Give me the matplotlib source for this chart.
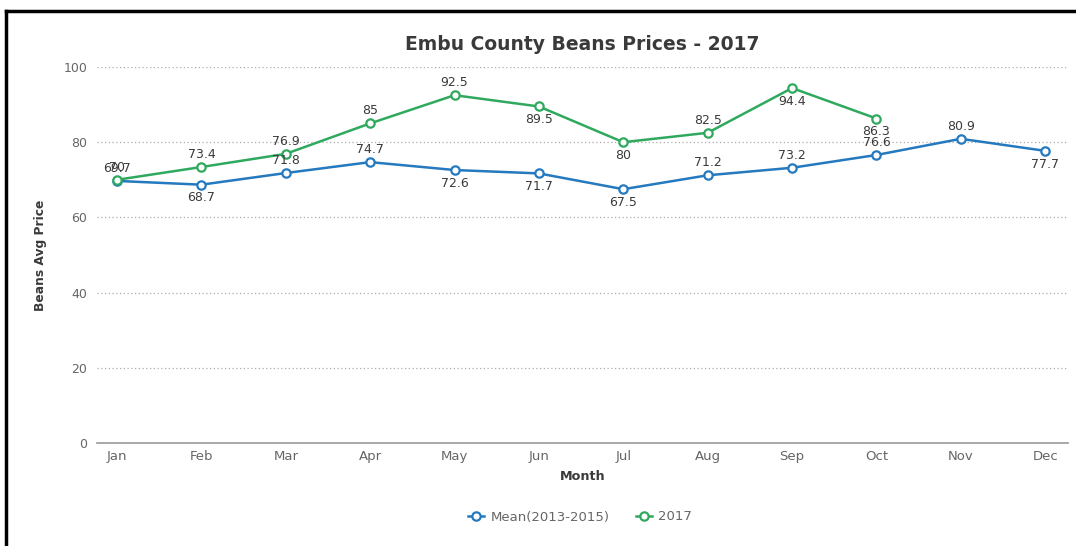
import matplotlib
matplotlib.use("Agg")
import matplotlib.pyplot as plt
from matplotlib.lines import Line2D

months = ["Jan", "Feb", "Mar", "Apr", "May", "Jun", "Jul", "Aug", "Sep", "Oct", "Nov", "Dec"]
mean_2013_2015 = [69.7, 68.7, 71.8, 74.7, 72.6, 71.7, 67.5, 71.2, 73.2, 76.6, 80.9, 77.7]
prices_2017 = [70, 73.4, 76.9, 85, 92.5, 89.5, 80, 82.5, 94.4, 86.3]

# label placement: +1 above the point, -1 below it
mean_label_side = [1, -1, 1, 1, -1, -1, -1, 1, 1, 1, 1, -1]
y2017_label_side = [1, 1, 1, 1, 1, -1, -1, 1, -1, -1]

BLUE = "#2479bf"
GREEN = "#2fa95e"
TEXT = "#3a3a3a"
AXIS_TEXT = "#666666"

plt.rcParams["font.family"] = ["DejaVu Sans"]

fig = plt.figure(figsize=(10.76, 5.46), dpi=100)
ax = fig.add_axes([97 / 1076, 1 - 443 / 546, (1068 - 97) / 1076, (443 - 67) / 546])

x = list(range(len(months)))
x17 = list(range(len(prices_2017)))

style = dict(lw=1.8, marker="o", ms=6, mfc="white", mew=1.6, clip_on=False)
ax.plot(x, mean_2013_2015, color=BLUE, mec=BLUE, zorder=3, **style)
ax.plot(x17, prices_2017, color=GREEN, mec=GREEN, zorder=4, **style)


def fmt(v):
    return f"{v:g}"


def label_points(xs, vals, sides):
    for xi, v, s in zip(xs, vals, sides):
        off = 9 if s > 0 else -9.5
        ax.annotate(fmt(v), (xi, v), xytext=(0, off), textcoords="offset points",
                    ha="center", va="center", fontsize=9, color=TEXT, zorder=5)


label_points(x, mean_2013_2015, mean_label_side)
label_points(x17, prices_2017, y2017_label_side)

ax.set_xlim(-0.237, 11.27)
ax.set_ylim(0, 100)
ax.set_yticks([0, 20, 40, 60, 80, 100])
ax.set_xticks(x)
ax.set_xticklabels(months)
ax.tick_params(axis="both", length=0, colors=AXIS_TEXT)
ax.tick_params(axis="x", pad=5, labelsize=9.5)
ax.tick_params(axis="y", pad=7, labelsize=9)

for sp in ["top", "right", "left"]:
    ax.spines[sp].set_visible(False)
ax.spines["bottom"].set_color("#999999")
ax.spines["bottom"].set_linewidth(1.2)

for yv in [20, 40, 60, 80, 100]:
    ax.axhline(yv, color="#aaaaaa", lw=0.9, ls=(0, (1, 2)), zorder=1)

ax.set_xlabel("Month", fontsize=9.2, fontweight="bold", color=TEXT, labelpad=5)
ax.set_ylabel("Beans Avg Price", fontsize=8.8, fontweight="bold", color=TEXT, labelpad=12)

fig.text(582 / 1076, 1 - 44 / 546, "Embu County Beans Prices - 2017", ha="center",
         va="center", fontsize=13.5, fontweight="bold", color=TEXT)

handles = [
    Line2D([], [], color=BLUE, lw=1.8, marker="o", ms=6, mfc="white", mec=BLUE, mew=1.6),
    Line2D([], [], color=GREEN, lw=1.8, marker="o", ms=6, mfc="white", mec=GREEN, mew=1.6),
]
fig.legend(handles, ["Mean(2013-2015)", "2017"], loc="center",
           bbox_to_anchor=(580 / 1076, 1 - 517 / 546), ncol=2, frameon=False,
           fontsize=9.5, labelcolor=AXIS_TEXT, handlelength=1.2, columnspacing=2.0,
           handletextpad=0.5)

# frame edges along the top and left of the canvas
fig.add_artist(Line2D([6 / 1076, 1], [1 - 11 / 546, 1 - 11 / 546], color="black", lw=2.5,
                      transform=fig.transFigure))
fig.add_artist(Line2D([6 / 1076, 6 / 1076], [0, 1 - 11 / 546], color="black", lw=2.5,
                      transform=fig.transFigure))

fig.savefig("out.png", dpi=100, facecolor="white")
